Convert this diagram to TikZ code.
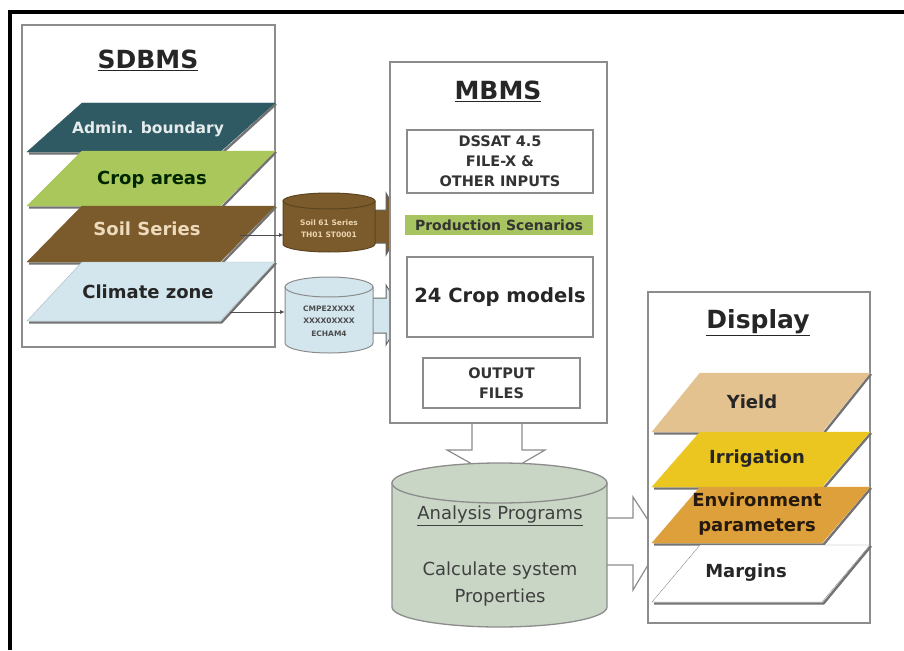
\documentclass[tikz,border=0pt]{standalone}
\usepackage{fontspec}
\setmainfont{DejaVu Sans}
\usetikzlibrary{arrows.meta}
\definecolor{boxgray}{HTML}{8C8C8C}
\definecolor{teal}{HTML}{2F5A64}
\definecolor{cropgreen}{HTML}{A9C75A}
\definecolor{soilbrown}{HTML}{7B5B2B}
\definecolor{climblue}{HTML}{D3E6EE}
\definecolor{prodgreen}{HTML}{A8C460}
\definecolor{anafill}{HTML}{C9D6C6}
\definecolor{yieldc}{HTML}{E3C290}
\definecolor{irrc}{HTML}{EBC520}
\definecolor{envc}{HTML}{DDA03A}
\newcommand\mylayer[6]{%
  \draw[black!55, line width=2.4pt, line join=round] (#1+2,-#3-1.5) -- (#1+#4+1.5,-#3-1.5) -- (#1+#4+#5+1,-#2-1);
  \filldraw[#6] (#1,-#3) -- (#1+#4,-#3) -- (#1+#4+#5,-#2) -- (#1+#5,-#2) -- cycle;}
\newcommand\mycyl[6]{%
  \filldraw[#6] (#1-#2,-#3-#4) -- (#1-#2,-#5+#4) arc[start angle=180,end angle=360,x radius=#2,y radius=#4] -- (#1+#2,-#3-#4) -- cycle;
  \filldraw[#6] (#1,-#3-#4) ellipse[x radius=#2, y radius=#4];}
\begin{document}
\begin{tikzpicture}[x=1pt,y=1pt,
  box/.style={draw=boxgray, line width=1.6pt, fill=white},
  inbox/.style={draw=boxgray, line width=1.4pt, fill=white, inner sep=0pt, align=center},
  title/.style={font=\bfseries\fontsize{25}{30}\selectfont, text=black!85},
  lbl/.style={font=\bfseries\fontsize{18}{22}\selectfont, inner sep=0pt, align=center},
  small/.style={font=\bfseries\fontsize{14.5}{20}\selectfont, text=black!80, align=center},
  tiny/.style={font=\bfseries\fontsize{7.5}{12}\selectfont, align=center, inner sep=0pt},
  thin/.style={draw=black!70, line width=1pt, -{Latex[length=5pt,width=4pt]}},
  blockarr/.style={draw=black!60, line width=1pt, line join=miter}
]
\useasboundingbox (0,0) rectangle (904,-650);
% outer frame
\draw[line width=3.5pt] (10,-650) -- (10,-12) -- (904,-12);
% SDBMS
\draw[box] (22,-25) rectangle (275,-347);
\node[title] (sdbms) at (148,-60) {\underline{SDBMS}};
\mylayer{27}{103}{152}{193}{55}{fill=teal, draw=teal}
\node[lbl, font=\bfseries\fontsize{15.5}{18}\selectfont, text=white!88!teal] (admin) at (148,-129) {Admin. boundary};
\mylayer{27}{151}{206}{193}{55}{fill=cropgreen, draw=cropgreen}
\node[lbl, text=black!85!green] (crop) at (152,-180) {Crop areas};
\mylayer{27}{206}{262}{193}{55}{fill=soilbrown, draw=soilbrown}
\node[lbl, text=yieldc!60!white] (soil) at (147,-229) {Soil Series};
\mylayer{27}{262}{321}{193}{55}{fill=climblue, draw=climblue!80!black}
\node[lbl, text=black!85] (climate) at (148,-292) {Climate zone};
% thin arrows
\coordinate (soilout) at (240,-235);
\coordinate (climout) at (230,-312);
\coordinate (soildbin) at (284,-235);
\coordinate (climdbin) at (285,-312);
% block arrows into MBMS
\filldraw[blockarr, fill=soilbrown] (370,-210) -- (386,-210) -- (386,-193) -- (404,-224) -- (386,-255) -- (386,-243) -- (370,-243) -- cycle;
\filldraw[blockarr, fill=climblue] (370,-298) -- (386,-298) -- (386,-285) -- (404,-315) -- (386,-345) -- (386,-333) -- (370,-333) -- cycle;
% small cylinders
\mycyl{329}{46}{193}{8}{252}{fill=soilbrown, draw=soilbrown!75!black, line width=1pt}
\node[tiny, text=yieldc!70!white] (soildb) at (329,-229) {Soil 61 Series\\TH01 ST0001};
\mycyl{329}{44}{277}{10}{353}{fill=climblue, draw=boxgray, line width=1pt}
\node[tiny, text=black!70, font=\bfseries\fontsize{7.5}{12.5}\selectfont] (climdb) at (329,-321) {CMPE2XXXX\\XXXX0XXXX\\ECHAM4};
\draw[thin] (soilout) -- (soildbin);
\draw[thin] (climout) -- (climdbin);
% down arrow and right arrow (behind)
\filldraw[draw=boxgray, line width=1.2pt, fill=white] (472,-423) -- (472,-450) -- (447,-450) -- (497,-478) -- (545,-450) -- (522,-450) -- (522,-423) -- cycle;
\filldraw[draw=boxgray, line width=1.2pt, fill=white] (600,-518) -- (633,-518) -- (633,-497) -- (662,-541.5) -- (633,-590) -- (633,-565) -- (600,-565) -- cycle;
% MBMS
\draw[box] (390,-62) rectangle (607,-423);
\node[title] (mbms) at (498,-91) {\underline{MBMS}};
\node[inbox, small, minimum width=186pt, minimum height=63pt] (dssat) at (500,-161.5) {DSSAT 4.5\\FILE-X \&\\OTHER INPUTS};
\node[inner sep=0pt, fill=prodgreen, minimum width=188pt, minimum height=20pt, font=\bfseries\fontsize{14}{16}\selectfont, text=black!80] (prod) at (499,-225) {Production Scenarios};
\node[inbox, minimum width=186pt, minimum height=80pt, font=\bfseries\fontsize{19.5}{22}\selectfont, text=black!85] (cropm) at (500,-297) {24 Crop models};
\node[inbox, small, minimum width=157pt, minimum height=50pt] (outf) at (501.5,-383) {OUTPUT\\FILES};
% Analysis cylinder
\mycyl{499.5}{107.5}{463}{20}{627}{fill=anafill, draw=boxgray, line width=1.3pt}
\node[font=\fontsize{18}{27}\selectfont, text=black!75, inner sep=0pt] (ana) at (500,-516) {\underline{Analysis Programs}};
\node[font=\fontsize{18}{27}\selectfont, text=black!75, align=center, inner sep=0pt] (calc) at (500,-584) {Calculate system\\Properties};
% Display
\draw[box] (648,-292) rectangle (870,-623);
\node[title] (disp) at (758,-323) {\underline{Display}};
\mylayer{652}{373}{432}{170}{48}{fill=yieldc, draw=yieldc}
\node[lbl, text=black!85] (yield) at (752,-402) {Yield};
\mylayer{652}{432}{487}{170}{48}{fill=irrc, draw=irrc}
\node[lbl, text=black!85] (irr) at (757,-459) {Irrigation};
\mylayer{652}{487}{543}{170}{48}{fill=envc, draw=envc}
\node[lbl, text=black!80!brown, font=\bfseries\fontsize{18}{25}\selectfont] (env) at (757,-514) {Environment\\parameters};
\mylayer{652}{545}{602}{170}{48}{fill=white, draw=boxgray}
\node[lbl, text=black!85] (marg) at (746,-573) {Margins};
\end{tikzpicture}
\end{document}
